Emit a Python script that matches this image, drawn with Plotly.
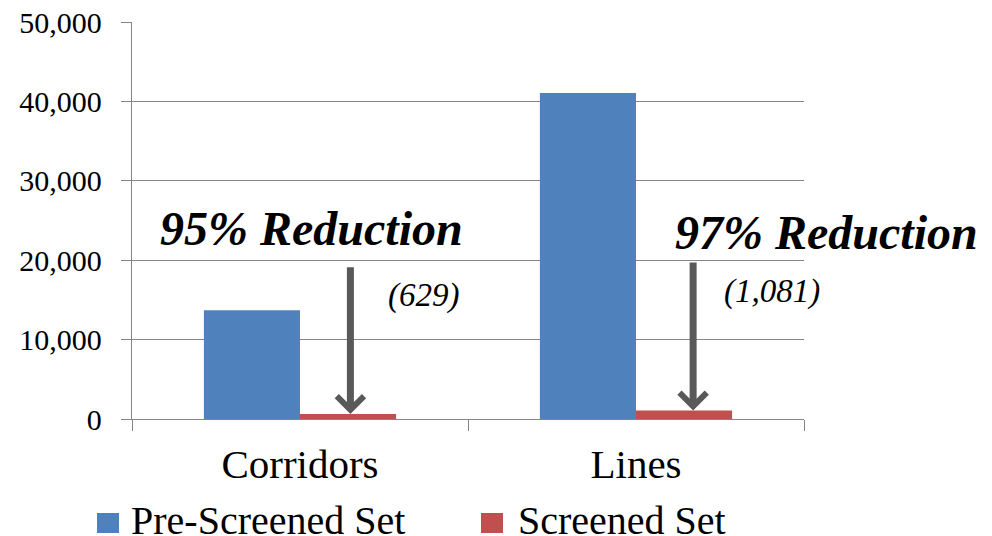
import plotly.graph_objects as go

# ---- data ----
categories = ["Corridors", "Lines"]
series_names = ["Pre-Screened Set", "Screened Set"]
pre_screened = [13700, 41050]
screened = [629, 1081]
series_colors = ["#4F81BD", "#C0504D"]

y_ticks = [0, 10000, 20000, 30000, 40000, 50000]

SERIF = "Liberation Serif, Times New Roman, serif"
GRID = "#868686"
ARROW = "#595959"

# plot-area geometry (pixels) used to place call-outs and the hand-drawn legend
W, H = 992, 536
L, R, T, B = 132, 188, 22, 117
PW, PH = W - L - R, H - T - B
N_CAT = len(categories)


def px_x(px):
    return (px - L) / PW


def px_y(py):
    return (H - B - py) / PH


def cat_to_paper(c):
    # category coordinate (-0.5 .. N-0.5) to paper fraction
    return (c + 0.5) / N_CAT


def val_to_paper(v):
    return v / y_ticks[-1]


fig = go.Figure()
for name, vals, col in zip(series_names, [pre_screened, screened], series_colors):
    fig.add_trace(go.Bar(x=categories, y=vals, name=name, marker_color=col,
                         marker_line_width=0, showlegend=False))

# reduction call-outs: arrow down to the screened bar, headline and count
arrow_x = [0.15, 1.17]
arrow_top = [19300, 19900]
head_x = [0.034, 1.567]
head_y = [24000, 23500]
count_x = [0.368, 1.405]
count_y = [15600, 16050]

annotations = []
for i in range(N_CAT):
    pct = round(100 * (1 - screened[i] / pre_screened[i]))
    annotations.append(dict(
        x=arrow_x[i], y=screened[i], ax=arrow_x[i], ay=arrow_top[i],
        xref="x", yref="y", axref="x", ayref="y", text="", showarrow=True,
        arrowhead=4, arrowsize=0.75, arrowwidth=7, arrowcolor=ARROW, standoff=0,
    ))
    annotations.append(dict(
        x=cat_to_paper(head_x[i]), y=val_to_paper(head_y[i]), xref="paper", yref="paper",
        showarrow=False, text=f"<b><i>{pct}% Reduction</i></b>",
        xanchor="center", yanchor="middle",
        font=dict(family=SERIF, size=48, color="black"),
    ))
    annotations.append(dict(
        x=cat_to_paper(count_x[i]), y=val_to_paper(count_y[i]), xref="paper", yref="paper",
        showarrow=False, text=f"<i>({screened[i]:,})</i>",
        xanchor="center", yanchor="middle",
        font=dict(family=SERIF, size=33, color="black"),
    ))

# legend drawn beneath the axis: coloured square + series name
legend_sq_x = [97, 481]
legend_txt_x = [129, 516]
legend_mid_y = 523
shapes = []
for name, col, sx, tx in zip(series_names, series_colors, legend_sq_x, legend_txt_x):
    shapes.append(dict(type="rect", xref="paper", yref="paper",
                       x0=px_x(sx), x1=px_x(sx + 22),
                       y0=px_y(legend_mid_y + 10), y1=px_y(legend_mid_y - 10),
                       fillcolor=col, line_width=0))
    annotations.append(dict(x=px_x(tx), y=px_y(legend_mid_y - 3), xref="paper", yref="paper",
                            text=name, showarrow=False, xanchor="left", yanchor="middle",
                            font=dict(family=SERIF, size=40, color="black")))

fig.update_layout(
    width=W, height=H,
    margin=dict(l=L, r=R, t=T, b=B),
    paper_bgcolor="white", plot_bgcolor="white",
    barmode="group", bargap=0.428, bargroupgap=0,
    showlegend=False,
    annotations=annotations, shapes=shapes,
    font=dict(family=SERIF, color="black"),
)
fig.update_xaxes(
    type="category", range=[-0.5, N_CAT - 0.5], automargin=False,
    showline=True, linecolor=GRID, linewidth=1.3,
    ticks="outside", tickson="boundaries", ticklen=11, tickcolor=GRID, tickwidth=1.3,
    tickfont=dict(family=SERIF, size=41, color="black"), ticklabelstandoff=9,
    showgrid=False,
)
fig.update_yaxes(
    range=[0, y_ticks[-1]], tickvals=y_ticks, tickformat=",", automargin=False,
    showline=True, linecolor=GRID, linewidth=1.3,
    ticks="outside", ticklen=10, tickcolor=GRID, tickwidth=1.3,
    tickfont=dict(family=SERIF, size=30, color="black"), ticklabelstandoff=13,
    showgrid=True, gridcolor=GRID, gridwidth=1.3, zeroline=False,
)

fig.write_html("out.html")
